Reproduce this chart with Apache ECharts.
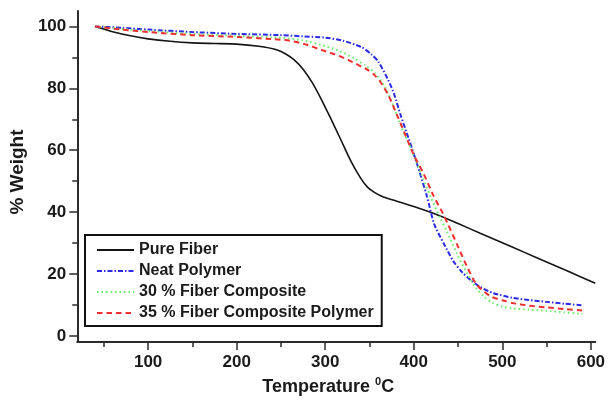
<!DOCTYPE html>
<html>
<head>
<meta charset="utf-8">
<script src="https://cdn.jsdelivr.net/npm/echarts@6/dist/echarts.min.js"></script>
<style>html,body{margin:0;padding:0;background:#fff}#c{width:608px;height:401px}</style>
</head>
<body>
<div id="c"></div>
<script>
// ---- data ----
const seriesNames = ['Pure Fiber', 'Neat Polymer', '30 % Fiber Composite', '35 % Fiber Composite Polymer'];

const pureFiberT = [40, 60, 80, 100, 125, 150, 175, 200, 225, 245, 255, 265, 275, 285, 295, 305, 317, 329, 340, 348, 356, 365, 380, 400, 425, 450, 475, 500, 525, 550, 575, 605];
const pureFiberW = [100, 98.3, 97.0, 96.0, 95.2, 94.7, 94.5, 94.3, 93.6, 92.5, 91.2, 89.2, 86.2, 82, 76.8, 71, 63.8, 56.5, 51, 48, 46.3, 45.0, 43.6, 41.8, 39.3, 36.3, 33.2, 30.1, 27, 23.9, 20.8, 17];

const neatT = [40, 70, 100, 150, 200, 250, 275, 300, 320, 341, 352, 360, 371, 378, 385, 394, 404, 415, 423, 434, 445, 455, 464, 475, 490, 512, 530, 550, 570, 590];
const neatW = [100, 99.6, 99.0, 98.2, 97.6, 97.2, 96.8, 96.4, 95.4, 93.3, 91.0, 88.6, 82.8, 78, 71.5, 64, 55.3, 45, 36.2, 29.8, 24, 20.5, 18.1, 15.8, 13.8, 12.3, 11.6, 11, 10.4, 9.9];

const fc30T = [40, 70, 100, 150, 200, 240, 260, 275, 296, 315, 333, 345, 356, 367, 376, 386, 397, 408, 419, 430, 437, 448, 460, 471, 480, 490, 500, 512, 530, 550, 570, 590];
const fc30W = [100, 99.2, 98.5, 97.6, 97, 96.5, 96.1, 95.5, 94, 92.2, 89.7, 87.4, 85, 80.7, 75, 67.5, 60.5, 52.5, 45, 38, 34, 27, 20.3, 15.2, 12.5, 10.5, 9.5, 8.9, 8.5, 8.1, 7.6, 7.1];

const fc35T = [40, 70, 100, 150, 200, 240, 260, 278, 296, 311, 326, 341, 348, 356, 363, 371, 379, 389, 400, 411, 422, 433, 438, 449, 460, 471, 486, 500, 512, 530, 550, 570, 590];
const fc35W = [100, 99, 98.2, 97.2, 96.6, 95.9, 95.4, 94.2, 92.4, 91, 89.2, 87, 86, 84.2, 81.8, 78, 72.8, 66, 58.5, 52.5, 45.5, 39.5, 36.5, 29.5, 22.5, 16.6, 12.9, 11.5, 10.6, 9.8, 9.2, 8.7, 8.2];

const xMajorTicks = [100, 200, 300, 400, 500, 600];
const xMinorTicks = [50, 150, 250, 350, 450, 550];
const yMajorTicks = [0, 20, 40, 60, 80, 100];
const yMinorTicks = [10, 30, 50, 70, 90];

// ---- chart ----
const zip = (a, b) => a.map((v, i) => [v, b[i]]);
const FONT = '"Liberation Sans", Arial, sans-serif';
const axisColor = '#2b2b2b';

const chart = echarts.init(document.getElementById('c'), null, {renderer: 'canvas'});

const lineSeries = (name, data, color, type, width) => ({
  name, type: 'line', data, xAxisIndex: 0, yAxisIndex: 0,
  symbol: 'none', showSymbol: false, smooth: 0.25,
  lineStyle: {color, width, type}, itemStyle: {color},
  emphasis: {disabled: true}, animation: false, z: 3
});

chart.setOption({
  animation: false,
  backgroundColor: '#fff',
  grid: {left: 72, right: 11, top: 11, bottom: 54, containLabel: false},
  legend: {
    orient: 'vertical', left: 85, top: 235,
    data: seriesNames,
    itemWidth: 37, itemHeight: 14, itemGap: 5,
    padding: [7, 8, 5, 11],
    borderColor: '#111', borderWidth: 2, backgroundColor: '#fff',
    itemStyle: {color: 'rgba(0,0,0,0)', borderColor: 'rgba(0,0,0,0)', borderWidth: 0},
    textStyle: {fontFamily: FONT, fontWeight: 'bold', fontSize: 16, color: '#1a1a1a', lineHeight: 16},
    selectedMode: false, z: 10
  },
  xAxis: [{
    type: 'value', min: 20, max: 605, position: 'bottom',
    name: '{a|Temperature }{s|0}{a|C}', nameLocation: 'middle', nameGap: 30,
    nameTextStyle: {padding: [0, 16, 0, 0], rich: {
      a: {fontFamily: FONT, fontWeight: 'bold', fontSize: 18, color: '#1a1a1a', lineHeight: 22},
      s: {fontFamily: FONT, fontWeight: 'bold', fontSize: 11, color: '#1a1a1a', verticalAlign: 'top', lineHeight: 12}
    }},
    axisLine: {show: true, onZero: false, lineStyle: {color: axisColor, width: 2}},
    axisTick: {show: true, inside: false, length: 8, customValues: xMajorTicks, lineStyle: {color: axisColor, width: 1.5}},
    axisLabel: {show: true, customValues: xMajorTicks, margin: 12, fontFamily: FONT, fontWeight: 'bold', fontSize: 17, color: '#1a1a1a'},
    splitLine: {show: false}
  }, {
    type: 'value', min: 20, max: 605, position: 'bottom',
    axisLine: {show: false, onZero: false},
    axisTick: {show: true, inside: false, length: 5, customValues: xMinorTicks, lineStyle: {color: axisColor, width: 1.5}},
    axisLabel: {show: false}, splitLine: {show: false}
  }],
  yAxis: [{
    type: 'value', min: -2, max: 105, position: 'left',
    name: '% Weight', nameLocation: 'middle', nameGap: 42,
    nameTextStyle: {fontFamily: FONT, fontWeight: 'bold', fontSize: 19, color: '#1a1a1a', padding: [0, 0, 0, 9]},
    axisLine: {show: true, onZero: false, lineStyle: {color: axisColor, width: 2}},
    axisTick: {show: true, inside: false, length: 8, customValues: yMajorTicks, lineStyle: {color: axisColor, width: 1.5}},
    axisLabel: {show: true, customValues: yMajorTicks, margin: 11, fontFamily: FONT, fontWeight: 'bold', fontSize: 17, color: '#1a1a1a'},
    splitLine: {show: false}
  }, {
    type: 'value', min: -2, max: 105, position: 'left',
    axisLine: {show: false, onZero: false},
    axisTick: {show: true, inside: false, length: 5, customValues: yMinorTicks, lineStyle: {color: axisColor, width: 1.5}},
    axisLabel: {show: false}, splitLine: {show: false}
  }],
  series: [
    lineSeries(seriesNames[0], zip(pureFiberT, pureFiberW), '#151515', 'solid', 1.6),
    lineSeries(seriesNames[1], zip(neatT, neatW), '#2a2ae6', [5, 2, 1.5, 2], 2),
    lineSeries(seriesNames[2], zip(fc30T, fc30W), '#66ee66', [1.5, 3], 2),
    lineSeries(seriesNames[3], zip(fc35T, fc35W), '#f03030', [5.5, 4], 2)
  ]
});
</script>
</body>
</html>
